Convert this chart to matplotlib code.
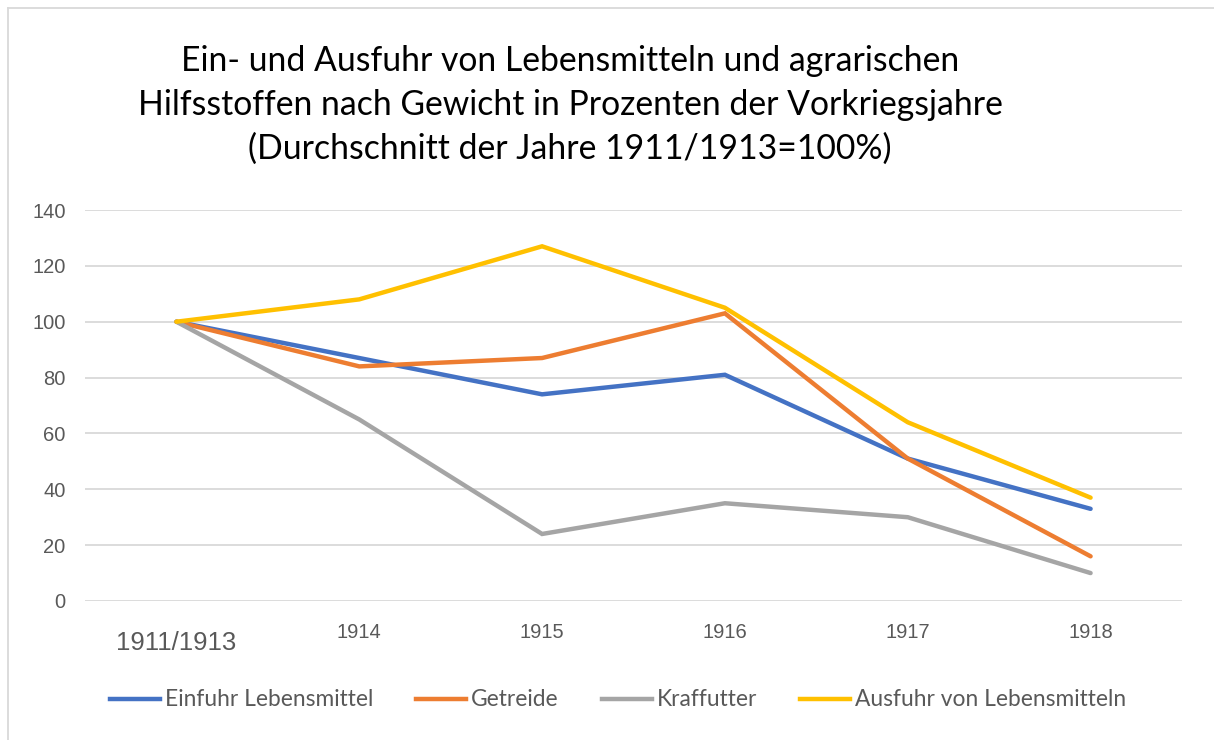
import matplotlib.pyplot as plt
from matplotlib.lines import Line2D

# Daten (Durchschnitt 1911/1913 = 100%)
jahre = ["1911/1913", "1914", "1915", "1916", "1917", "1918"]
einfuhr_lebensmittel = [100, 87, 74, 81, 51, 33]
getreide = [100, 84, 87, 103, 51, 16]
kraffutter = [100, 65, 24, 35, 30, 10]
ausfuhr_lebensmittel = [100, 108, 127, 105, 64, 37]

reihen = [
    ("Einfuhr Lebensmittel", einfuhr_lebensmittel, "#4472C4"),
    ("Getreide", getreide, "#ED7D31"),
    ("Kraffutter", kraffutter, "#A5A5A5"),
    ("Ausfuhr von Lebensmitteln", ausfuhr_lebensmittel, "#FFC000"),
]

W, H = 1214, 740
fig = plt.figure(figsize=(W / 100, H / 100), dpi=100)
ax = fig.add_axes([85 / W, 1 - 601 / H, (1182 - 85) / W, (601 - 210) / H])

x = list(range(len(jahre)))
for name, werte, farbe in reihen:
    ax.plot(x, werte, color=farbe, lw=3.2, label=name, solid_capstyle="round",
            solid_joinstyle="miter")

ax.set_xlim(-0.5, len(jahre) - 0.5)
ax.set_ylim(0, 140)
ax.set_yticks(range(0, 141, 20))
ax.grid(axis="y", color="#D9D9D9", lw=1.3)
ax.set_axisbelow(True)
for s in ax.spines.values():
    s.set_visible(False)
ax.tick_params(length=0, colors="#595959")
ax.tick_params(axis="y", labelsize=14.5, pad=14)
for lbl in ax.get_yticklabels():
    lbl.set_fontfamily("Liberation Sans")
ax.set_xticks(x)
ax.set_xticklabels(jahre, fontfamily="Liberation Sans", fontsize=14.5)
ax.tick_params(axis="x", pad=16)
first = ax.get_xticklabels()[0]
first.set_fontsize(18.5)
first.set_y(-0.019)

# Titel
fig.text(570 / W, 1 - 105 / H,
         "Ein- und Ausfuhr von Lebensmitteln und agrarischen\n"
         "Hilfsstoffen nach Gewicht in Prozenten der Vorkriegsjahre\n"
         "(Durchschnitt der Jahre 1911/1913=100%)",
         ha="center", va="center", fontsize=24.3, fontfamily="Lato",
         linespacing=1.44, color="black")

# Legende
handles = [Line2D([], [], color=f, lw=3.2) for _, _, f in reihen]
leg = fig.legend(handles, [r[0] for r in reihen], loc="center",
                 bbox_to_anchor=(618 / W, 1 - 700 / H), ncol=4, frameon=False,
                 handlelength=2.2, handletextpad=0.2, columnspacing=1.9,
                 prop={"family": "Lato", "size": 16.4})
for t in leg.get_texts():
    t.set_color("#595959")

# Rahmen
fig.add_artist(Line2D([8 / W, 8 / W], [0, 1 - 8 / H], color="#D9D9D9", lw=1.3))
fig.add_artist(Line2D([8 / W, 1], [1 - 8 / H, 1 - 8 / H], color="#D9D9D9", lw=1.3))

fig.savefig("out.png", dpi=100)
